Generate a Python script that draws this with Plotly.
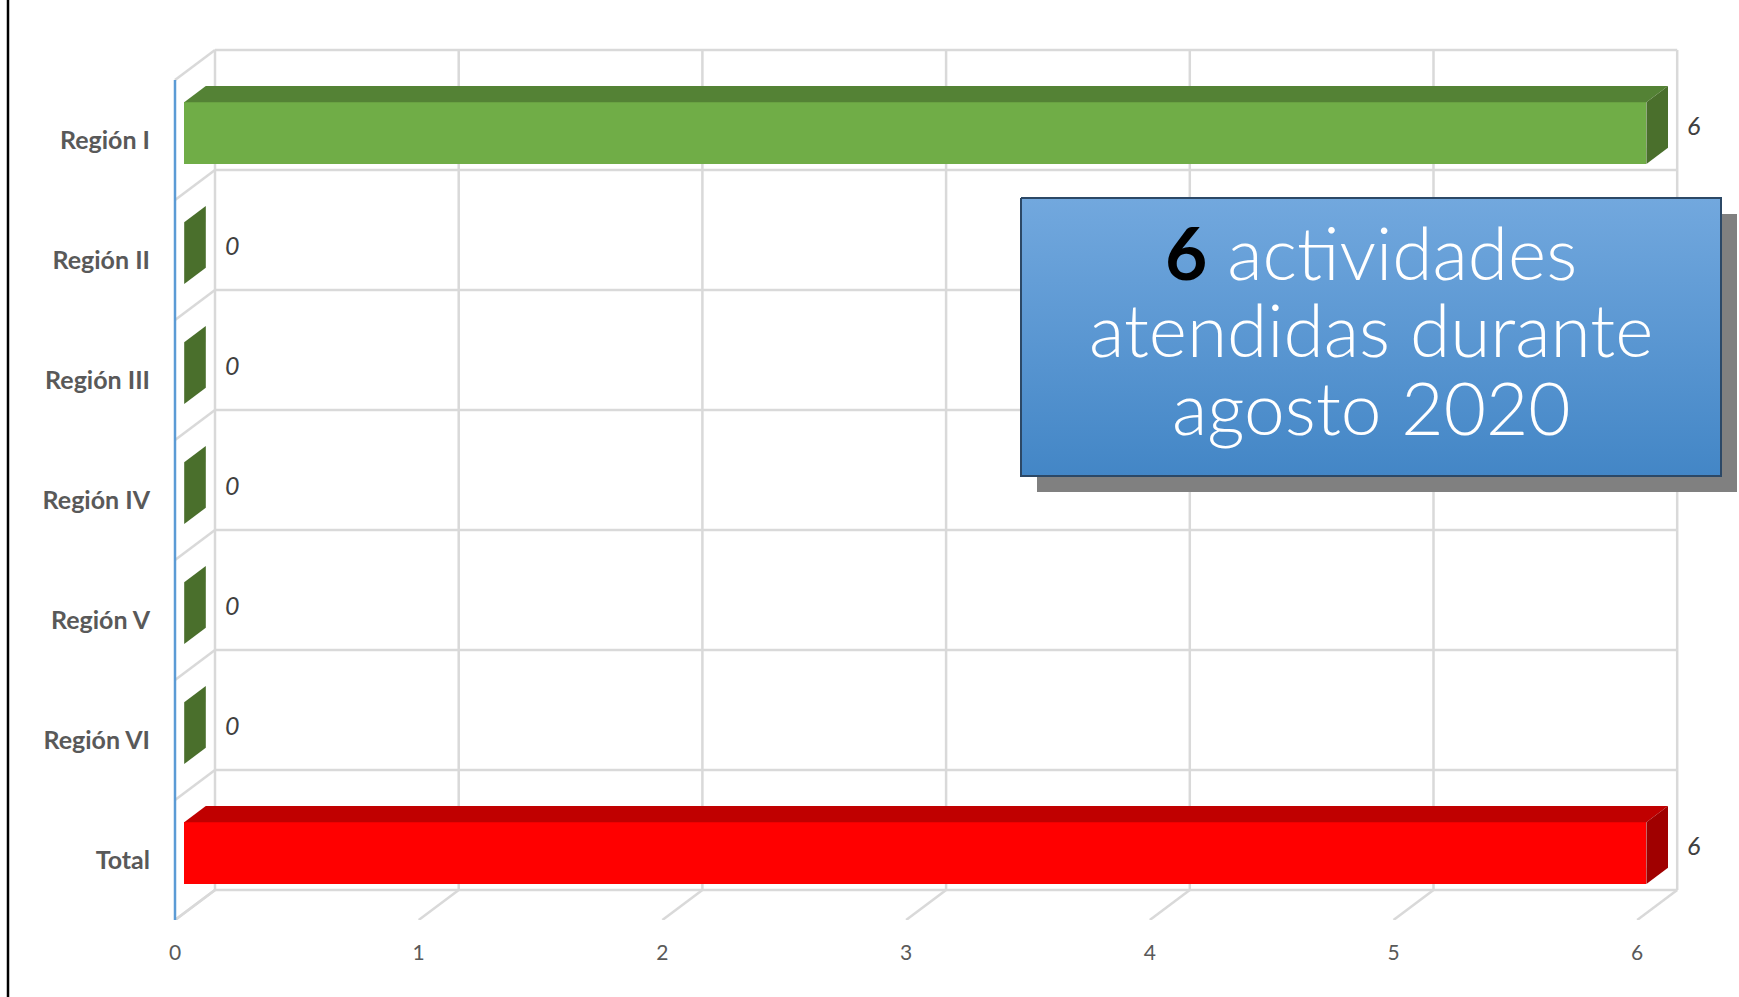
import plotly.graph_objects as go

# ---------------- data ----------------
categories = ["Región I", "Región II", "Región III", "Región IV", "Región V", "Región VI", "Total"]
values = [6, 0, 0, 0, 0, 0, 6]
x_ticks = [0, 1, 2, 3, 4, 5, 6]
box_lines = ["<span style='color:black'><b>6</b></span> actividades",
             "atendidas durante",
             "agosto 2020"]

# ---------------- styles ----------------
front_colors = ["#70ad47"] * 6 + ["#ff0000"]
top_colors = ["#548235"] * 6 + ["#c00000"]
side_colors = ["#4a6f2c"] * 6 + ["#a00000"]
GRID = "#d9d9d9"
TXT = "#595959"

# ---------------- geometry (pixel layout of the 3D frame) ----------------
W, H = 1739, 997
L, B = 160, 77                    # plot area left / bottom margins (px)
AX0 = 175                         # px of value 0 on the front plane
UNIT_PX = 243.7                   # px per value unit on the front plane
BAND_PX = 120.0                   # px per category band
FIRST_C = 140.0                   # py of first band centre
PLOT_H = H - B
x_range = [-(AX0 - L) / UNIT_PX, (W - AX0) / UNIT_PX]
y_range = [(PLOT_H - FIRST_C) / BAND_PX, -FIRST_C / BAND_PX]

DX = 40 / UNIT_PX                 # full depth offset in value units
DY = -30 / BAND_PX                # full depth offset in band units
F0, F1 = 0.23, 0.77               # bar depth (front / back fraction)
HALF = 0.257                      # half bar thickness (band units)
n = len(categories)
idx = list(range(n))

fig = go.Figure()

# front faces of the bars
fig.add_trace(go.Bar(
    y=idx, x=values, base=[F0 * DX] * n, orientation="h",
    width=2 * HALF, offset=F0 * DY - HALF,
    marker=dict(color=front_colors, line=dict(width=0)),
    hoverinfo="skip", showlegend=False))

# top and side faces
for i, v in enumerate(values):
    b = F0 * DX
    yt = i + F0 * DY - HALF
    yb = i + F0 * DY + HALF
    ddx = (F1 - F0) * DX
    ddy = (F1 - F0) * DY
    if v > 0:
        fig.add_trace(go.Scatter(
            x=[b, b + v, b + v + ddx, b + ddx, b],
            y=[yt, yt, yt + ddy, yt + ddy, yt],
            fill="toself", fillcolor=top_colors[i], mode="lines",
            line=dict(width=0), hoverinfo="skip", showlegend=False))
    fig.add_trace(go.Scatter(
        x=[b + v, b + v + ddx, b + v + ddx, b + v, b + v],
        y=[yt, yt + ddy, yb + ddy, yb, yt],
        fill="toself", fillcolor=side_colors[i], mode="lines",
        line=dict(width=0), hoverinfo="skip", showlegend=False))

# text box (shadow + gradient box) on pixel overlay axes
fig.add_trace(go.Scatter(
    x=[1037, 1737, 1737, 1037, 1037], y=[214, 214, 492, 492, 214],
    xaxis="x2", yaxis="y2", fill="toself", fillcolor="#808080",
    mode="lines", line=dict(width=0), hoverinfo="skip", showlegend=False))
fig.add_trace(go.Scatter(
    x=[1021, 1721, 1721, 1021, 1021], y=[198, 198, 476, 476, 198],
    xaxis="x2", yaxis="y2", fill="toself",
    fillgradient=dict(type="vertical", start=198, stop=476,
                      colorscale=[[0, "#72a8de"], [1, "#4386c6"]]),
    mode="lines", line=dict(width=2, color="#2c4866"),
    hoverinfo="skip", showlegend=False))

shapes = []
line_style = dict(color=GRID, width=2.5)
# back wall verticals
for t in x_ticks:
    shapes.append(dict(type="line", xref="x", yref="y", layer="below",
                       x0=t + DX, x1=t + DX, y0=-0.5 + DY, y1=n - 0.5 + DY, line=line_style))
    # floor diagonals
    shapes.append(dict(type="line", xref="x", yref="y", layer="below",
                       x0=t, x1=t + DX, y0=n - 0.5, y1=n - 0.5 + DY, line=line_style))
# back wall horizontals + left wall diagonals
for k in range(n + 1):
    shapes.append(dict(type="line", xref="x", yref="y", layer="below",
                       x0=DX, x1=x_ticks[-1] + DX, y0=k - 0.5 + DY, y1=k - 0.5 + DY, line=line_style))
    shapes.append(dict(type="line", xref="x", yref="y", layer="below",
                       x0=0, x1=DX, y0=k - 0.5, y1=k - 0.5 + DY, line=line_style))
# front value axis line
shapes.append(dict(type="line", xref="x", yref="y", layer="below",
                   x0=0, x1=0, y0=-0.5, y1=n - 0.5, line=dict(color="#5b9bd5", width=2.5)))
# black left border of the picture
shapes.append(dict(type="line", xref="paper", yref="paper",
                   x0=(8 - L) / (W - L), x1=(8 - L) / (W - L), y0=-B / PLOT_H, y1=1.0,
                   line=dict(color="black", width=2.5)))

annotations = []
# data labels
for i, v in enumerate(values):
    annotations.append(dict(
        x=v + F1 * DX + 0.07, y=i + 0.5 * (F0 + F1) * DY, xref="x", yref="y",
        text=str(v), showarrow=False, xanchor="left", yanchor="middle",
        font=dict(family="Lato", size=25, color="#404040", style="italic")))
# box text
for j, (txt, yc) in enumerate(zip(box_lines, [252, 329, 407])):
    annotations.append(dict(
        x=1371, y=yc, xref="x2", yref="y2", text=txt, showarrow=False,
        xanchor="center", yanchor="middle",
        font=dict(family="Lato", size=73, color="white", weight=300)))

fig.update_layout(
    width=W, height=H,
    margin=dict(l=L, r=0, t=0, b=B, pad=0),
    paper_bgcolor="white", plot_bgcolor="white",
    showlegend=False, bargap=0,
    xaxis=dict(range=x_range, tickvals=x_ticks, showgrid=False, zeroline=False,
               showline=False, ticks="outside", ticklen=14, tickcolor="rgba(0,0,0,0)",
               tickfont=dict(family="Lato", size=21, color=TXT), fixedrange=True),
    yaxis=dict(range=y_range, tickvals=idx, ticktext=categories, showgrid=False,
               zeroline=False, showline=False, ticks="outside", ticklen=4,
               tickcolor="rgba(0,0,0,0)",
               tickfont=dict(family="Lato", size=25, color=TXT, weight="bold"),
               fixedrange=True),
    xaxis2=dict(overlaying="x", anchor="y2", range=[L, W], visible=False, fixedrange=True),
    yaxis2=dict(overlaying="y", anchor="x2", range=[PLOT_H, 0], visible=False, fixedrange=True),
    shapes=shapes, annotations=annotations,
)

fig.write_html("out.html", config={"displayModeBar": False},
               post_script="document.body.style.margin='0';document.body.style.overflow='hidden';")
